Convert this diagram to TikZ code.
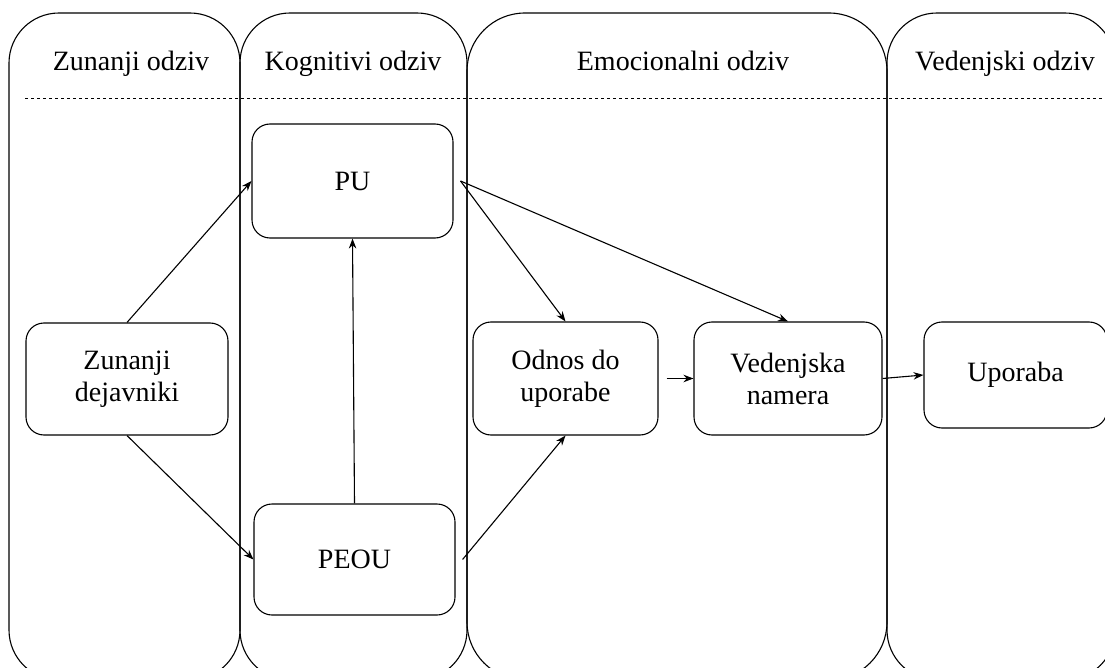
\documentclass[tikz,border=0pt]{standalone}
\usepackage{fontspec}
\setmainfont{Liberation Serif}
\newfontfamily\laneserif{Liberation Serif}
\usepackage{tikz}
\usetikzlibrary{positioning,calc,arrows.meta}

\begin{document}
\begin{tikzpicture}[x=1pt,y=-1pt,
                lane/.style={draw,line width=1.1pt,rounded corners=#1},
                lane/.default=50pt,
                stagebox/.style={draw,line width=1.1pt,rounded corners=18pt,inner sep=0pt,align=center,font=\laneserif\fontsize{28}{32}\selectfont},
                heading/.style={anchor=base,font=\laneserif\fontsize{28}{32}\selectfont},
                flow/.style={-{Stealth[length=10pt,width=7.5pt]},line width=1.1pt}]
                \useasboundingbox (0,0) rectangle (1105,668);
                \clip (0,0) rectangle (1105,668);

                % Swim lanes
                \draw[lane] (9,13) rectangle (240,680);
                \draw[lane] (240,13) rectangle (467,680);
                \draw[lane=58pt] (467,13) rectangle (887,680);
                \draw[lane] (887,13) rectangle (1115,680);
                \draw[line width=1pt,dash pattern=on 3pt off 3pt] (25,99) -- (1105,99);

                % Lane headings
                \node[heading] (hzun) at (131,71) {Zunanji odziv};
                \node[heading] (hkog) at (353,71) {Kognitivi odziv};
                \node[heading] (hemo) at (683,71) {Emocionalni odziv};
                \node[heading] (hved) at (1005,71) {Vedenjski odziv};

                % Model boxes
                \node[stagebox,minimum width=202pt,minimum height=112pt] (zd) at (127,379) {Zunanji\\dejavniki};
                \node[stagebox,minimum width=201pt,minimum height=114pt] (pu) at (352.5,181) {PU};
                \node[stagebox,minimum width=201pt,minimum height=111pt] (peou) at (354.5,559.5) {PEOU};
                \node[stagebox,minimum width=185pt,minimum height=113pt] (odnos) at (565.5,378.5) {Odnos do\\uporabe};
                \node[stagebox,minimum width=188pt,minimum height=113pt] (namera) at (788,378.5) {Vedenjska\\namera};
                \node[stagebox,minimum width=183pt,minimum height=106pt] (upo) at (1015.5,375) {Uporaba};

                % Relations
                \draw[flow] (zd.north) -- (pu.west);
                \draw[flow] (zd.south) -- (peou.west);
                \draw[flow] (peou.north) -- (pu.south);
                \draw[flow] ([xshift=7pt]pu.east) -- (odnos.north);
                \draw[flow] ([xshift=7pt]pu.east) -- (namera.north);
                \draw[flow] ([xshift=7pt]peou.east) -- (odnos.south);
                \draw[flow,shorten <=8pt] (odnos.east) -- (namera.west);
                \draw[flow] (namera.east) -- (upo.west);
\end{tikzpicture}
\end{document}
